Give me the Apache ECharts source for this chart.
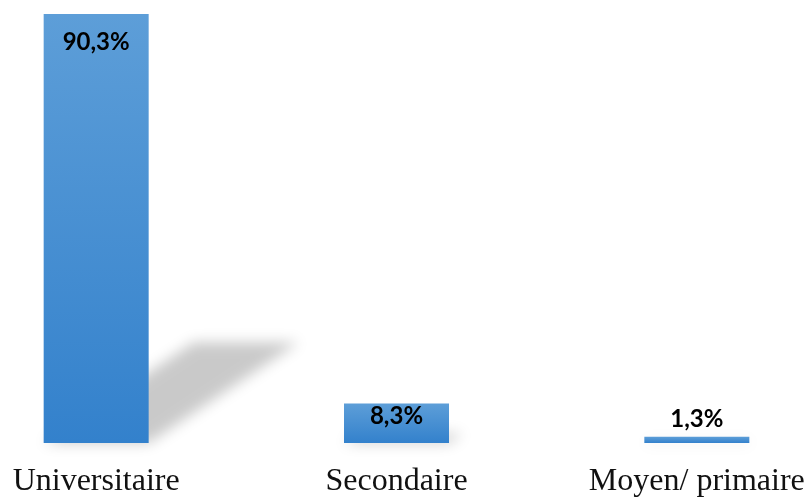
<!DOCTYPE html>
<html>
<head>
<meta charset="utf-8">
<script src="https://cdn.jsdelivr.net/npm/echarts@6/dist/echarts.min.js"></script>
<style>
  html, body { margin: 0; padding: 0; background: #fff; }
  #chart { width: 810px; height: 497px; }
</style>
</head>
<body>
<div id="chart"></div>
<script>
// Niveau d'instruction (%)
const categories = ['Universitaire', 'Secondaire', 'Moyen/ primaire'];
const values = [90.3, 8.3, 1.3];
const valueLabels = ['90,3%', '8,3%', '1,3%'];

const BAR_W = 105;
const OFF = 3000; // shape drawn off-canvas; only its blurred shadow is visible

// per-bar label placement
const labelPlacement = [
  { position: 'insideTop', distance: 16 },
  { position: 'insideTop', distance: 1 },
  { position: 'top', distance: 6 }
];

const chart = echarts.init(document.getElementById('chart'), null, { renderer: 'canvas' });

const barGradient = new echarts.graphic.LinearGradient(0, 0, 0, 1, [
  { offset: 0, color: '#5d9ed8' },
  { offset: 1, color: '#3381cc' }
]);

chart.setOption({
  animation: false,
  backgroundColor: '#ffffff',
  grid: { left: -54, width: 901, top: 14, bottom: 54, outerBoundsMode: 'none', containLabel: false },
  xAxis: {
    type: 'category',
    data: categories,
    axisLine: { show: false },
    axisTick: { show: false },
    axisLabel: {
      margin: 23,
      fontFamily: '"Liberation Serif", "Times New Roman", serif',
      fontSize: 32,
      color: '#111111',
      lineHeight: 32
    }
  },
  yAxis: {
    type: 'value',
    min: 0,
    max: 'dataMax',
    show: false,
    splitLine: { show: false }
  },
  series: [
    {
      // floor shadow cast by each bar
      type: 'custom',
      z: 1,
      silent: true,
      data: values.map((v, i) => [i, v]),
      renderItem: function (params, api) {
        const idx = api.value(0);
        const base = api.coord([idx, 0]);
        const top = api.coord([idx, api.value(1)]);
        const h = base[1] - top[1];
        const dx = 0.35 * h;
        const dy = 0.235 * h;
        const half = BAR_W / 2;
        const x0 = base[0] - half - OFF;
        const x1 = base[0] + half - OFF;
        const y = base[1];
        return {
          type: 'polygon',
          shape: {
            points: [
              [x0, y],
              [x1, y],
              [x1 + dx, y - dy],
              [x0 + dx, y - dy]
            ]
          },
          style: {
            fill: '#000',
            shadowColor: 'rgba(0,0,0,0.21)',
            shadowBlur: 14,
            shadowOffsetX: OFF,
            shadowOffsetY: 0
          }
        };
      }
    },
    {
      type: 'bar',
      z: 2,
      barWidth: BAR_W,
      data: values.map((v, i) => ({
        value: v,
        label: Object.assign({}, labelPlacement[i])
      })),
      itemStyle: { color: barGradient },
      label: {
        show: true,
        formatter: function (p) { return valueLabels[p.dataIndex]; },
        fontFamily: 'Lato, "Open Sans", sans-serif',
        fontWeight: 'bold',
        fontSize: 24,
        color: '#000000'
      }
    }
  ]
});
</script>
</body>
</html>
